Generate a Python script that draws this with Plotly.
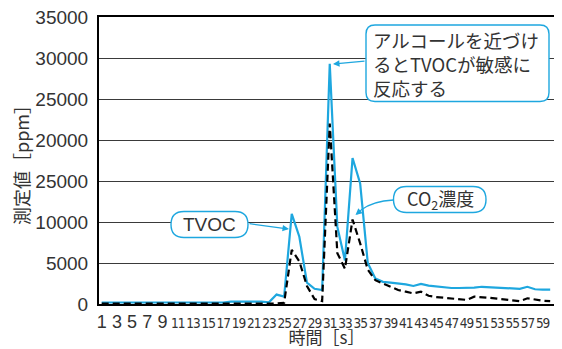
import plotly.graph_objects as go

# ---------------- data ----------------
time_s = [i for i in range(1, 61)]

tvoc_ppm = [
    180, 180, 180, 180, 180, 180, 180, 180, 180, 180,
    180, 180, 180, 180, 180, 180, 180, 300, 300, 300,
    300, 300, 200, 1150, 900, 11000, 8200, 2600, 1850, 1700,
    29300, 9400, 5300, 17800, 14700, 5000, 3100, 2700, 2600, 2500,
    2400, 2200, 2450, 2250, 2150, 2050, 1950, 1950, 1950, 2000,
    2100, 2050, 2000, 1950, 1900, 1850, 2100, 1800, 1750, 1750,
]

co2_ppm = [
    50, 50, 50, 50, 50, 50, 50, 50, 50, 50,
    50, 50, 50, 50, 50, 50, 50, 50, 50, 50,
    50, 50, 50, 50, 150, 6600, 5200, 2200, 600, 350,
    22000, 6200, 4300, 10300, 7400, 4200, 2900, 2500, 2100, 1700,
    1500, 1300, 1500, 1000, 850, 750, 650, 550, 500, 900,
    850, 750, 650, 550, 450, 350, 700, 550, 400, 350,
]

x_tick_values = [1, 3, 5, 7, 9, 11, 13, 15, 17, 19, 21, 23, 25, 27, 29,
                 31, 33, 35, 37, 39, 41, 43, 45, 47, 49, 51, 53, 55, 57, 59]
x_tick_labels = ["1", "3", "5", "7", "9", "11", "13", "15", "17", "19", "21",
                 "23", "25", "27", "29", "31", "33", "35", "37", "39", "41",
                 "43", "45", "47", "49", "51", "53", "55", "57", "59"]
y_tick_values = [0, 5000, 10000, 15000, 20000, 25000, 30000, 35000]
y_tick_labels = ["0", "5000", "10000", "25000", "20000", "25000", "30000", "35000"]

# ---------------- styling ----------------
BLUE = "#1ea7df"
OFF = 8                       # page body margin of the browser
W, H = 562 - OFF, 349 - OFF
L, R, T, B = 99 - OFF, 8, 17 - OFF, 45
PW, PH = W - L - R, H - T - B


def px(x):
    return (x - OFF - L) / PW


def py(y):
    return (H - B - (y - OFF)) / PH


def rrect(x0, y0, x1, y1, r):
    pts = [
        f"M {px(x0 + r)} {py(y0)}",
        f"L {px(x1 - r)} {py(y0)}",
        f"Q {px(x1)} {py(y0)} {px(x1)} {py(y0 + r)}",
        f"L {px(x1)} {py(y1 - r)}",
        f"Q {px(x1)} {py(y1)} {px(x1 - r)} {py(y1)}",
        f"L {px(x0 + r)} {py(y1)}",
        f"Q {px(x0)} {py(y1)} {px(x0)} {py(y1 - r)}",
        f"L {px(x0)} {py(y0 + r)}",
        f"Q {px(x0)} {py(y0)} {px(x0 + r)} {py(y0)}",
        "Z",
    ]
    return " ".join(pts)


def xtick(t):
    if len(t) == 1:
        return t
    return ('<span style="font-family:Liberation Sans Narrow, DejaVu Sans Condensed, sans-serif;'
            'font-size:13.5px;letter-spacing:-1px">' + t + '</span>')


fig = go.Figure()
fig.add_trace(go.Scatter(x=time_s, y=tvoc_ppm, mode="lines",
                         line=dict(color=BLUE, width=2.2), name="TVOC"))
fig.add_trace(go.Scatter(x=time_s, y=co2_ppm, mode="lines",
                         line=dict(color="black", width=2.2, dash="7px,4px"),
                         name="CO2"))

JP = "Noto Sans CJK JP"
NUM = "Liberation Sans"

fig.update_layout(
    width=W, height=H,
    margin=dict(l=L, r=R, t=T, b=B, autoexpand=False),
    paper_bgcolor="white", plot_bgcolor="white",
    showlegend=False,
    xaxis=dict(
        range=[0.645, 60.5],
        tickmode="array", tickvals=x_tick_values,
        ticktext=[xtick(t) for t in x_tick_labels],
        tickfont=dict(family=NUM, size=18, color="#333"),
        tickangle=0, automargin=False, ticklabeloverflow="allow",
        showgrid=False, zeroline=False,
        showline=True, linecolor="black", linewidth=2, mirror=True,
        ticks="",
        title=dict(text="時間［s］", font=dict(family=JP, size=17, color="#333"),
                   standoff=2),
    ),
    yaxis=dict(
        range=[0, 35000],
        tickmode="array", tickvals=y_tick_values, ticktext=y_tick_labels,
        tickfont=dict(family=NUM, size=19, color="#333"),
        showgrid=True, gridcolor="#3a3a3a", gridwidth=1.4,
        zeroline=False, automargin=False, ticklabeloverflow="allow",
        showline=True, linecolor="black", linewidth=2, mirror=True,
        ticks="", ticklabelstandoff=5,
        title=dict(text="測定値［ppm］", font=dict(family=JP, size=18, color="#333"),
                   standoff=4),
    ),
)

shapes = [
    dict(type="path", xref="paper", yref="paper", path=rrect(366, 25, 549, 101.5, 9),
         line=dict(color=BLUE, width=1.4), fillcolor="white", layer="above"),
    dict(type="path", xref="paper", yref="paper", path=rrect(171, 211.5, 248, 237.5, 13),
         line=dict(color=BLUE, width=1.4), fillcolor="white", layer="above"),
    dict(type="path", xref="paper", yref="paper", path=rrect(393.5, 186.5, 486, 212.5, 13),
         line=dict(color=BLUE, width=1.4), fillcolor="white", layer="above"),
    dict(type="path", xref="paper", yref="paper",
         path=f"M {px(393.5)} {py(200)} Q {px(373)} {py(201)} {px(361)} {py(210)}",
         line=dict(color=BLUE, width=1.3), layer="above"),
]
fig.update_layout(shapes=shapes)

anns = [
    dict(xref="paper", yref="paper", x=px(371), y=py(63.5), xanchor="left", yanchor="middle",
         text="アルコールを近づけ<br>るとTVOCが敏感に<br>反応する", align="left",
         showarrow=False, font=dict(family=JP, size=18.5, color="#333")),
    dict(xref="paper", yref="paper", x=px(209.5), y=py(224.5), xanchor="center", yanchor="middle",
         text="TVOC", showarrow=False, font=dict(family=NUM, size=19, color="#333")),
    dict(xref="paper", yref="paper", x=px(440), y=py(199.5), xanchor="center", yanchor="middle",
         text="CO<sub>2</sub>濃度", showarrow=False, font=dict(family=JP, size=18, color="#333")),
    dict(xref="paper", yref="paper", x=px(333), y=py(64), ax=33, ay=-3, text="",
         showarrow=True, arrowhead=2, arrowsize=1, arrowwidth=1.3, arrowcolor=BLUE, standoff=0),
    dict(xref="paper", yref="paper", x=px(289), y=py(229), ax=-41, ay=-5.5, text="",
         showarrow=True, arrowhead=2, arrowsize=1, arrowwidth=1.3, arrowcolor=BLUE, standoff=0),
    dict(xref="paper", yref="paper", x=px(355.5), y=py(215), ax=7, ay=-6, text="",
         showarrow=True, arrowhead=2, arrowsize=1, arrowwidth=1.3, arrowcolor=BLUE, standoff=0),
]
fig.update_layout(annotations=anns)

fig.write_html("out.html")
